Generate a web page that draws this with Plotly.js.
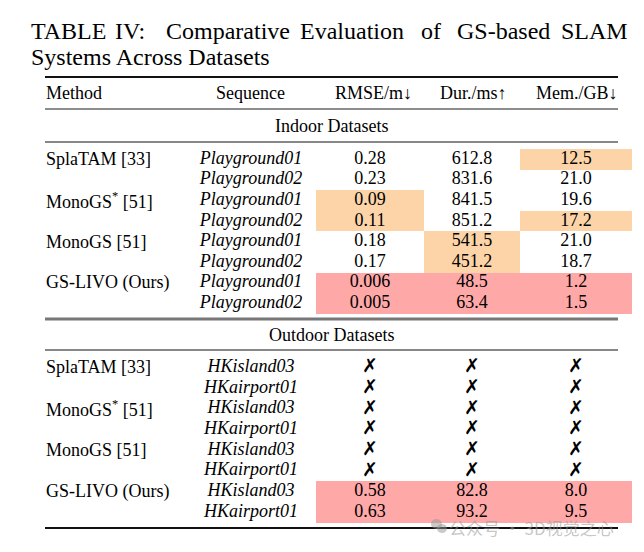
<!DOCTYPE html>
<html>
<head>
<meta charset="utf-8">
<script src="https://cdn.plot.ly/plotly-3.0.1.min.js"></script>
<style>html,body{margin:0;padding:0;background:#fff;}#chart{width:644px;height:552px;}</style>
</head>
<body>
<div id="chart"></div>
<script>
// ---------------- data ----------------
const titleLine1 = ["TABLE", "IV:", "Comparative", "Evaluation", "of", "GS-based", "SLAM"];
const titleLine2 = "Systems Across Datasets";
const headers = ["Method", "Sequence", "RMSE/m↓", "Dur./ms↑", "Mem./GB↓"];
const sections = ["Indoor Datasets", "Outdoor Datasets"];
const methods = ["SplaTAM [33]", "MonoGS<sup>*</sup> [51]", "MonoGS [51]", "GS-LIVO (Ours)"];
const indoorSeq = ["Playground01", "Playground02"];
const outdoorSeq = ["HKisland03", "HKairport01"];

const rmseIndoor = ["0.28", "0.23", "0.09", "0.11", "0.18", "0.17", "0.006", "0.005"];
const durIndoor  = ["612.8", "831.6", "841.5", "851.2", "541.5", "451.2", "48.5", "63.4"];
const memIndoor  = ["12.5", "21.0", "19.6", "17.2", "21.0", "18.7", "1.2", "1.5"];

const rmseOutdoor = [null, null, null, null, null, null, "0.58", "0.63"];
const durOutdoor  = [null, null, null, null, null, null, "82.8", "93.2"];
const memOutdoor  = [null, null, null, null, null, null, "8.0", "9.5"];

// highlight level per cell: 0 none, 1 second best (orange), 2 best (red)
const hlRmseIndoor = [0, 0, 1, 1, 0, 0, 2, 2];
const hlDurIndoor  = [0, 0, 0, 0, 1, 1, 2, 2];
const hlMemIndoor  = [1, 0, 0, 1, 0, 0, 2, 2];
const hlRmseOutdoor = [0, 0, 0, 0, 0, 0, 2, 2];
const hlDurOutdoor  = [0, 0, 0, 0, 0, 0, 2, 2];
const hlMemOutdoor  = [0, 0, 0, 0, 0, 0, 2, 2];

// ---------------- layout geometry ----------------
const SERIF = "Liberation Serif, Times New Roman, serif";
const FS = 18;
const ruleX0 = 45, ruleX1 = 618;
const methodX = 45;
const colCenters = [251, 370, 472, 576];          // sequence, rmse, dur, mem
const hlEdges = [316, 424, 520, 632];               // metric column edges
const secTop = [149, 357];
const rowH = [20.6, 20.7];
const rowCenter = (s, i) => secTop[s] + rowH[s] * (i + 0.5);
const nRows = 8;

// ---------------- heatmap for highlighted cells ----------------
const yEdges = [];
for (let i = 0; i <= nRows; i++) yEdges.push(secTop[0] + rowH[0] * i);
for (let i = 0; i <= nRows; i++) yEdges.push(secTop[1] + rowH[1] * i);
const z = [];
const hlIn = [hlRmseIndoor, hlDurIndoor, hlMemIndoor];
const hlOut = [hlRmseOutdoor, hlDurOutdoor, hlMemOutdoor];
for (let i = 0; i < nRows; i++) z.push(hlIn.map(c => c[i] ? c[i] : null));
z.push([null, null, null]);  // gap between sections
for (let i = 0; i < nRows; i++) z.push(hlOut.map(c => c[i] ? c[i] : null));

const traces = [];
traces.push({
  type: "heatmap", x: hlEdges, y: yEdges, z: z,
  zmin: 1, zmax: 2,
  colorscale: [[0, "#FCD4A8"], [1, "#FFA8A8"]],
  showscale: false, hoverinfo: "skip"
});

// ---------------- cell text ----------------
function textTrace(xs, ys, texts, font) {
  return {type: "scatter", mode: "text", x: xs, y: ys, text: texts,
          textposition: "middle center", textfont: font, hoverinfo: "skip",
          cliponaxis: false, showlegend: false};
}
const seqIn = [], seqOut = [], yIn = [], yOut = [];
for (let i = 0; i < nRows; i++) {
  seqIn.push(indoorSeq[i % 2]); seqOut.push(outdoorSeq[i % 2]);
  yIn.push(rowCenter(0, i)); yOut.push(rowCenter(1, i));
}
const italicFont = {family: SERIF, size: FS, color: "#000", style: "italic"};
const plainFont = {family: SERIF, size: FS, color: "#000"};
traces.push(textTrace(Array(nRows).fill(colCenters[0]), yIn, seqIn, italicFont));
traces.push(textTrace(Array(nRows).fill(colCenters[0]), yOut, seqOut, italicFont));
[rmseIndoor, durIndoor, memIndoor].forEach((col, k) => {
  traces.push(textTrace(Array(nRows).fill(colCenters[k + 1]), yIn, col, plainFont));
});
[rmseOutdoor, durOutdoor, memOutdoor].forEach((col, k) => {
  const num = [], numY = [], crs = [], crsY = [];
  col.forEach((v, i) => {
    if (v === null) { crs.push("✗"); crsY.push(yOut[i]); }
    else { num.push(v); numY.push(yOut[i]); }
  });
  traces.push(textTrace(Array(num.length).fill(colCenters[k + 1]), numY, num, plainFont));
  traces.push(textTrace(Array(crs.length).fill(colCenters[k + 1]), crsY, crs,
    {family: "DejaVu Sans", size: 19, color: "#000"}));
});

// ---------------- annotations ----------------
const ann = [];
const titleXs = [30, 114, 165, 299, 420, 456, 629];
titleLine1.forEach((w, i) => ann.push({text: w, x: titleXs[i], y: 31,
  xanchor: i === titleLine1.length - 1 ? "right" : "left", yanchor: "middle"}));
ann.push({text: titleLine2, x: 30, y: 57, xanchor: "left", yanchor: "middle"});
ann.forEach(a => { a.xref = "x"; a.yref = "y"; a.showarrow = false; a.borderpad = 0;
  a.font = {family: SERIF, size: 24, color: "#000"}; });

const hdrY = 93;
ann.push({text: headers[0], x: methodX, y: hdrY, xanchor: "left"});
const hdrXs = [250, 373, 473, 577];
for (let k = 1; k < headers.length; k++) ann.push({text: headers[k], x: hdrXs[k - 1], y: hdrY, xanchor: "center"});
ann.push({text: sections[0], x: 331, y: 126, xanchor: "center"});
ann.push({text: sections[1], x: 331, y: 335, xanchor: "center"});
for (let s = 0; s < 2; s++) {
  methods.forEach((m, j) => ann.push({text: m, x: methodX, y: rowCenter(s, j * 2), xanchor: "left"}));
}
ann.forEach(a => {
  if (!a.xref) { a.xref = "x"; a.yref = "y"; a.showarrow = false; a.borderpad = 0; a.yanchor = "middle";
    a.font = {family: SERIF, size: FS, color: "#000"}; }
});
// watermark
ann.push({text: "公众号 · 3D视觉之心", x: 448, y: 527, xref: "x", yref: "y", xanchor: "left", yanchor: "middle",
  showarrow: false, borderpad: 0, font: {family: "Noto Sans CJK SC", size: 17, color: "rgba(150,150,150,0.55)"}});

// ---------------- rules ----------------
function rule(y, w, c) {
  return {type: "line", xref: "x", yref: "y", x0: ruleX0, x1: ruleX1, y0: y, y1: y, line: {color: c, width: w}, layer: "above"};
}
const shapes = [
  rule(77, 1.8, "#111"),
  rule(109, 1.4, "#666"),
  rule(142, 1.2, "#111"),
  rule(319, 3, "#777"),
  rule(350, 1.2, "#111"),
  rule(528, 2, "#111"),
  {type: "circle", xref: "x", yref: "y", x0: 431, x1: 442, y0: 519, y1: 529, fillcolor: "rgba(150,150,150,0.5)", line: {width: 0}, layer: "above"},
  {type: "circle", xref: "x", yref: "y", x0: 437, x1: 447, y0: 524, y1: 533, fillcolor: "rgba(150,150,150,0.5)", line: {width: 0}, layer: "above"}
];

const layout = {
  width: 644, height: 552,
  margin: {l: 0, r: 0, t: 0, b: 0, pad: 0},
  paper_bgcolor: "#fff", plot_bgcolor: "#fff",
  xaxis: {range: [0, 644], visible: false, fixedrange: true},
  yaxis: {range: [552, 0], visible: false, fixedrange: true},
  showlegend: false,
  annotations: ann,
  shapes: shapes
};
Plotly.newPlot("chart", traces, layout, {staticPlot: true, displayModeBar: false});
</script>
</body>
</html>
